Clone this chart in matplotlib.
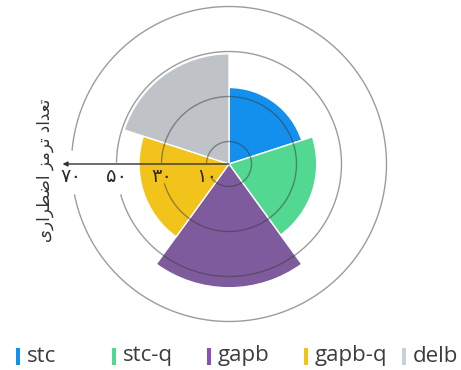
import numpy as np
import matplotlib
matplotlib.use("Agg")
import matplotlib.pyplot as plt
from matplotlib.patches import Rectangle

# ---- data ----
categories = ["stc", "stc-q", "gapb", "gapb-q", "delb"]
values = [34, 39, 55, 40, 49]
colors = ["#1390ee", "#52d891", "#7e5b9d", "#f2c31b", "#bfc3c8"]
legend_colors = ["#1390ee", "#52d891", "#8a4fb8", "#f2c31b", "#c4d2de"]
tick_values = [10, 30, 50, 70]
tick_labels = ["۱۰", "۳۰", "۵۰", "۷۰"]

# axis title, shaped with Arabic presentation forms (logical order, then reversed for display)
_words = [
    "\uFE97\uFECC\uFEAA\uFE8D\uFEA9",                 # تعداد
    "\uFE97\uFEAE\uFEE3\uFEB0",                       # ترمز
    "\uFE8D\uFEBF\uFEC4\uFEAE\uFE8D\uFEAD\uFEEF",     # اضطراری
]
axis_title = " ".join(_words)[::-1]

W, H = 461, 370
fig = plt.figure(figsize=(W / 100, H / 100), dpi=100)
fig.patch.set_facecolor("white")

# polar axes geometry (pixels)
cx, cy = 229, 164          # centre, measured from top-left
rmax = 75
px_per_unit = 2.25
R = rmax * px_per_unit
ax = fig.add_axes([(cx - R) / W, (H - cy - R) / H, 2 * R / W, 2 * R / H],
                  projection="polar")
ax.set_theta_zero_location("N")
ax.set_theta_direction(-1)
ax.set_ylim(0, rmax)
ax.grid(False)
ax.set_xticks([])
ax.set_yticks([])
ax.spines["polar"].set_visible(False)
ax.patch.set_alpha(0)

# sectors
n = len(values)
width = 2 * np.pi / n
theta = np.arange(n) * width + width / 2
ax.bar(theta, values, width=width, color=colors, edgecolor="white",
       linewidth=1.0, align="center", zorder=2)

# circular grid, left open where the radial axis and its labels sit
gaps = {10: (2, 14), 30: (2, 20), 50: (2, 31), 70: (14, 31)}
for r in tick_values:
    rp = r * px_per_unit
    up, down = gaps[r]
    a_up = np.degrees(np.arcsin(min(up / rp, 1)))
    a_dn = np.degrees(np.arcsin(min(down / rp, 1)))
    t = np.radians(np.linspace(270 + a_up, 630 - a_dn, 600))
    ax.plot(t, np.full_like(t, r), color="#3a3a3a", alpha=0.5, lw=1.0, zorder=3)

# radial axis with arrow head pointing outwards to the left
ax.annotate("", xy=(np.radians(270), 74), xytext=(0, 0),
            arrowprops=dict(arrowstyle="-|>", color="#333333", lw=1.0,
                            mutation_scale=7, shrinkA=0, shrinkB=0),
            zorder=4)

for r, lab in zip(tick_values, tick_labels):
    ax.annotate(lab, xy=(np.radians(270), r), xytext=(0, -12),
                textcoords="offset pixels", ha="center", va="center",
                fontsize=14, color="#2b2b2b", family=["DejaVu Sans"], zorder=5)

fig.text(45 / W, 1 - 170 / H, axis_title, rotation=90, ha="center", va="center",
         fontsize=12, color="#333333", family=["DejaVu Sans"])

# legend row
bar_x = [16, 112, 207, 304, 402]
leg_y = 356
for xb, col, name in zip(bar_x, legend_colors, categories):
    fig.patches.append(Rectangle((xb / W, (H - leg_y - 8.5) / H), 3.5 / W, 17 / H,
                                 transform=fig.transFigure, facecolor=col,
                                 edgecolor="none"))
    fig.text((xb + 11) / W, 1 - leg_y / H, name, ha="left", va="center",
             fontsize=16, color="#3d3d3d", family=["Open Sans", "DejaVu Sans"])

fig.savefig("out.png", dpi=100, facecolor="white")
